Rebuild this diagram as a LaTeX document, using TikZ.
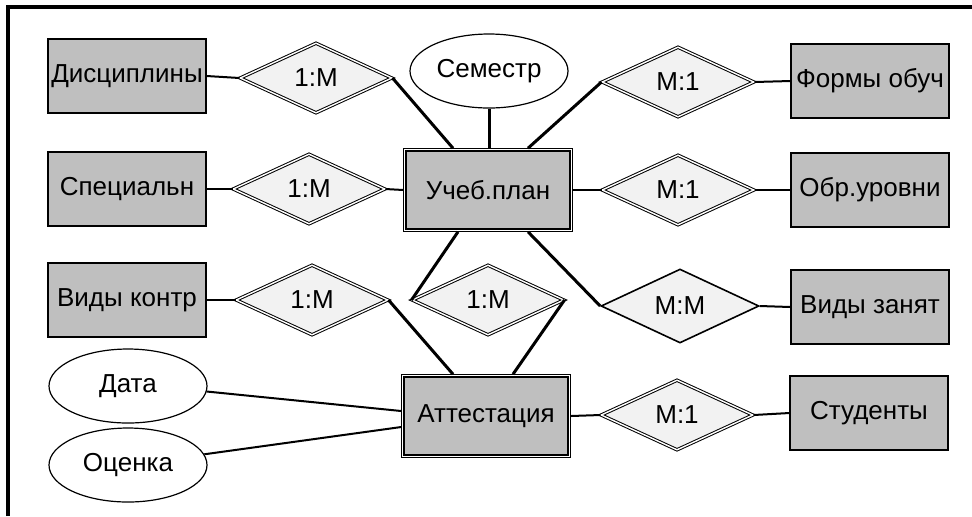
\documentclass[tikz,border=0pt]{standalone}
\usepackage{fontspec}
\setmainfont{Liberation Sans}
\usetikzlibrary{shapes.geometric}

\definecolor{entgray}{gray}{0.75}
\definecolor{relfill}{gray}{0.95}

\tikzset{
  er/.style = {font=\fontsize{13}{15}\selectfont, inner sep=1pt},
  entity/.style = {er, rectangle, draw, line width=0.6pt, fill=entgray,
    minimum width=79pt, minimum height=37pt},
  mainentity/.style = {er, rectangle, draw, line width=1.8pt, fill=entgray,
    minimum width=83pt, minimum height=40pt},
  attrib/.style = {er, ellipse, draw, line width=0.6pt, fill=white,
    minimum width=79pt, minimum height=37pt},
  relbase/.style = {er, diamond, draw, fill=relfill, aspect=2},
  relation/.style = {relbase, double, double distance=0.7pt, line width=0.5pt,
    minimum width=76pt, minimum height=35pt},
  relmm/.style = {relbase, line width=0.8pt, minimum width=79pt, minimum height=37pt},
  link/.style = {line width=1pt},
  heavylink/.style = {line width=1.5pt}
}

\begin{document}
\begin{tikzpicture}[x=0.5pt, y=-0.5pt]
\useasboundingbox (0,0) rectangle (972,516);
% frame
\draw[line width=1.8pt] (8,516) -- (8,7) -- (972,7);

% entities
\node[entity] (disc) at (127,76) {Дисциплины};
\node[entity] (spec) at (127,189) {Специальн};
\node[entity] (vkontr) at (127,300) {Виды контр};
\node[entity] (forms) at (870,81) {Формы обуч};
\node[entity] (urovni) at (870,190) {Обр.уровни};
\node[entity] (vzan) at (870,307) {Виды занят};
\node[entity] (stud) at (869,413) {Студенты};

\node[mainentity] (plan) at (488,190) {Учеб.план};
\node[mainentity] (att) at (486,416) {Аттестация};
\foreach \n in {plan, att} {
  \draw[line width=0.5pt] ([shift={(1.25pt,-1.25pt)}]\n.north west)
    rectangle ([shift={(-1.25pt,1.25pt)}]\n.south east);
  \draw[white, line width=0.7pt] ([shift={(0.65pt,-0.65pt)}]\n.north west)
    rectangle ([shift={(-0.65pt,0.65pt)}]\n.south east);
}

% attributes
\node[attrib] (sem) at (489,71) {Семестр};
\node[attrib] (data) at (128,386) {Дата};
\node[attrib] (ocenka) at (128,465) {Оценка};

% relations
\node[relation] (r1) at (316,78) {1:M};
\node[relation] (r2) at (309,189) {1:M};
\node[relation] (r3) at (312,300) {1:M};
\node[relation] (r4) at (488,300) {1:M};
\node[relation] (r5) at (678,82) {M:1};
\node[relation] (r6) at (678,190) {M:1};
\node[relmm] (r7) at (680,306) {M:M};
\node[relation] (r8) at (677,415) {M:1};

% connectors
\draw[link] (disc.east) -- (r1.west);
\draw[heavylink] (r1.east) -- ([xshift=-17.5pt]plan.north);
\draw[heavylink] (sem.south) -- (sem.south |- plan.north);
\draw[heavylink] (r5.west) -- ([xshift=20pt]plan.north);
\draw[link] (r5.east) -- (forms.west);
\draw[link] (spec.east) -- (r2.west);
\draw[link] (r2.east) -- (plan.west);
\draw[link] (plan.east) -- (r6.west);
\draw[link] (r6.east) -- (urovni.west);
\draw[heavylink] ([xshift=-15pt]plan.south) -- (r4.west);
\draw[heavylink] ([xshift=20pt]plan.south) -- (r7.west);
\draw[link] (r7.east) -- (vzan.west);
\draw[link] (vkontr.east) -- (r3.west);
\draw[heavylink] (r3.east) -- ([xshift=-16.5pt]att.north);
\draw[heavylink] (r4.east) -- ([xshift=13.5pt]att.north);
\draw[link] (data.-4) -- ([yshift=2.5pt]att.west);
\draw[link] (ocenka.8) -- ([yshift=-5.5pt]att.west);
\draw[link] (att.east) -- (r8.west);
\draw[link] (r8.east) -- (stud.west);
\end{tikzpicture}
\end{document}
